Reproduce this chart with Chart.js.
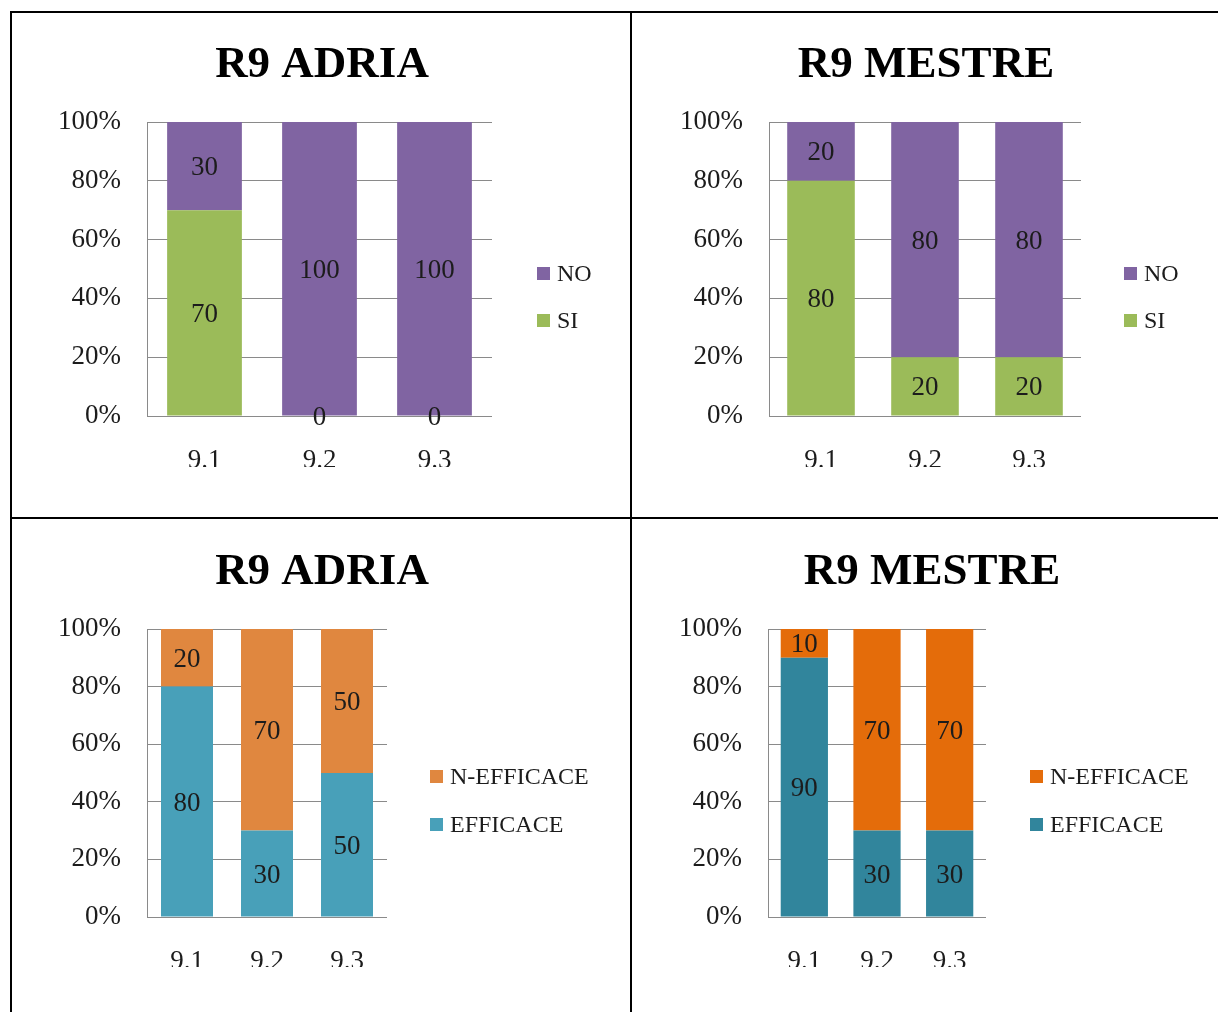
<!DOCTYPE html>
<html>
<head>
<meta charset="utf-8">
<script src="https://cdn.jsdelivr.net/npm/chart.js@4.4.1/dist/chart.umd.min.js"></script>
<style>
  html, body { margin: 0; padding: 0; background: #fff; }
  body { position: relative; width: 1218px; height: 1012px; overflow: hidden; }
  .rule { position: absolute; background: #000; }
  .cell { position: absolute; overflow: hidden; background: #fff; }
  .cell canvas { display: block; }
</style>
</head>
<body>
<div class="rule" style="left:10px;top:11px;width:1208px;height:2px"></div>
<div class="rule" style="left:10px;top:11px;width:2px;height:1001px"></div>
<div class="rule" style="left:630px;top:11px;width:2px;height:1001px"></div>
<div class="rule" style="left:10px;top:517px;width:1208px;height:2px"></div>

<div class="cell" id="cellA"><canvas id="chartA"></canvas></div>
<div class="cell" id="cellB"><canvas id="chartB"></canvas></div>
<div class="cell" id="cellC"><canvas id="chartC"></canvas></div>
<div class="cell" id="cellD"><canvas id="chartD"></canvas></div>

<script>
// Question codes on the x axis
const categories = ['9.1', '9.2', '9.3'];

// Percent axis ticks
const yTickValues = [0, 20, 40, 60, 80, 100];

// Answers SI / NO
const adriaSi = [70, 0, 0];
const adriaNo = [30, 100, 100];
const mestreSi = [80, 20, 20];
const mestreNo = [20, 80, 80];

// Judged effectiveness
const adriaEfficace = [80, 30, 50];
const adriaNonEfficace = [20, 70, 50];
const mestreEfficace = [90, 30, 30];
const mestreNonEfficace = [10, 70, 70];

const titleAdria = 'R9 ADRIA';
const titleMestre = 'R9 MESTRE';
const labelSi = 'SI';
const labelNo = 'NO';
const labelEff = 'EFFICACE';
const labelNonEff = 'N-EFFICACE';

// ---- styling ----
const SERIF = '"Liberation Serif", "Times New Roman", serif';
const TEXT = '#1c1c1c';
const GRID = '#8a8a8a';
const COLORS = {
  no: '#8064A2',
  si: '#9BBB59',
  effA: '#48A0B9',
  nonEffA: '#E0873F',
  effM: '#31859C',
  nonEffM: '#E46C0A'
};

// Draws the panel title, value labels inside each bar segment and the legend
const panelDecor = {
  id: 'panelDecor',
  afterDatasetsDraw(chart, args, opts) {
    const ctx = chart.ctx;
    ctx.save();
    // value labels
    ctx.font = '27px ' + SERIF;
    ctx.fillStyle = TEXT;
    ctx.textAlign = 'center';
    ctx.textBaseline = 'middle';
    chart.data.datasets.forEach((ds, i) => {
      const meta = chart.getDatasetMeta(i);
      meta.data.forEach((bar, j) => {
        const y = (bar.y + bar.base) / 2 + 2;
        ctx.fillText(String(ds.data[j]), bar.x, y);
      });
    });
    // title
    ctx.font = 'bold 45px ' + SERIF;
    ctx.fillStyle = '#000';
    ctx.fillText(opts.title, opts.titleX, opts.titleY);
    // legend, top series first
    ctx.font = '24px ' + SERIF;
    ctx.textAlign = 'left';
    const items = chart.data.datasets.slice().reverse();
    items.forEach((ds, k) => {
      const cy = opts.legendY + k * opts.legendStep;
      ctx.fillStyle = ds.backgroundColor;
      ctx.fillRect(opts.legendX, cy - 7, 13, 13);
      ctx.fillStyle = TEXT;
      ctx.fillText(ds.label, opts.legendX + 20, cy + 1);
    });
    ctx.restore();
  }
};

function makePanel(key, g, title, bottom, top) {
  const cell = document.getElementById('cell' + key);
  const canvas = document.getElementById('chart' + key);
  const xAxisH = 60;
  const h = g.bottom - g.y + xAxisH;
  cell.style.left = g.x + 'px';
  cell.style.top = g.y + 'px';
  cell.style.width = g.w + 'px';
  cell.style.height = (g.clip - g.y) + 'px';
  canvas.width = g.w;
  canvas.height = h;
  canvas.style.width = g.w + 'px';
  canvas.style.height = h + 'px';

  const tickFont = { family: SERIF, size: 27 };
  new Chart(canvas, {
    type: 'bar',
    data: {
      labels: categories,
      datasets: [
        { label: bottom.label, data: bottom.values, backgroundColor: bottom.color },
        { label: top.label, data: top.values, backgroundColor: top.color }
      ]
    },
    options: {
      responsive: false,
      animation: false,
      devicePixelRatio: 1,
      events: [],
      layout: {
        padding: { left: 0, top: g.top - g.y, right: g.x + g.w - g.right, bottom: 0 }
      },
      datasets: { bar: { categoryPercentage: 0.65, barPercentage: 1 } },
      plugins: {
        legend: { display: false },
        title: { display: false },
        tooltip: { enabled: false },
        panelDecor: {
          title: title,
          titleX: g.titleX - g.x,
          titleY: g.titleY - g.y,
          legendX: g.legendX - g.x,
          legendY: g.legendY - g.y,
          legendStep: g.legendStep
        }
      },
      scales: {
        x: {
          stacked: true,
          grid: { display: false },
          border: { display: false },
          ticks: { font: tickFont, color: TEXT, padding: 21, maxRotation: 0 },
          afterFit(scale) { scale.height = xAxisH; }
        },
        y: {
          stacked: true,
          min: 0,
          max: 100,
          afterBuildTicks(scale) { scale.ticks = yTickValues.map(v => ({ value: v })); },
          ticks: { font: tickFont, color: TEXT, padding: 26, callback: v => v + '%' },
          grid: { color: GRID, lineWidth: 1, drawTicks: false },
          border: { display: true, color: GRID, width: 1 },
          afterFit(scale) { scale.width = g.left - g.x; }
        }
      }
    },
    plugins: [panelDecor]
  });
}

// Panel geometry in page pixels
makePanel('A',
  { x: 12, y: 14, w: 618, clip: 467, left: 147, top: 122, right: 492, bottom: 416,
    titleX: 322, titleY: 65.5, legendX: 537, legendY: 274, legendStep: 47 },
  titleAdria,
  { label: labelSi, values: adriaSi, color: COLORS.si },
  { label: labelNo, values: adriaNo, color: COLORS.no });

makePanel('B',
  { x: 632, y: 14, w: 586, clip: 467, left: 769, top: 122, right: 1081, bottom: 416,
    titleX: 926, titleY: 65.5, legendX: 1124, legendY: 274, legendStep: 47 },
  titleMestre,
  { label: labelSi, values: mestreSi, color: COLORS.si },
  { label: labelNo, values: mestreNo, color: COLORS.no });

makePanel('C',
  { x: 12, y: 520, w: 618, clip: 967, left: 147, top: 629, right: 387, bottom: 917,
    titleX: 322, titleY: 572.5, legendX: 430, legendY: 777, legendStep: 48 },
  titleAdria,
  { label: labelEff, values: adriaEfficace, color: COLORS.effA },
  { label: labelNonEff, values: adriaNonEfficace, color: COLORS.nonEffA });

makePanel('D',
  { x: 632, y: 520, w: 586, clip: 967, left: 768, top: 629, right: 986, bottom: 917,
    titleX: 932, titleY: 572.5, legendX: 1030, legendY: 777, legendStep: 48 },
  titleMestre,
  { label: labelEff, values: mestreEfficace, color: COLORS.effM },
  { label: labelNonEff, values: mestreNonEfficace, color: COLORS.nonEffM });
</script>
</body>
</html>
